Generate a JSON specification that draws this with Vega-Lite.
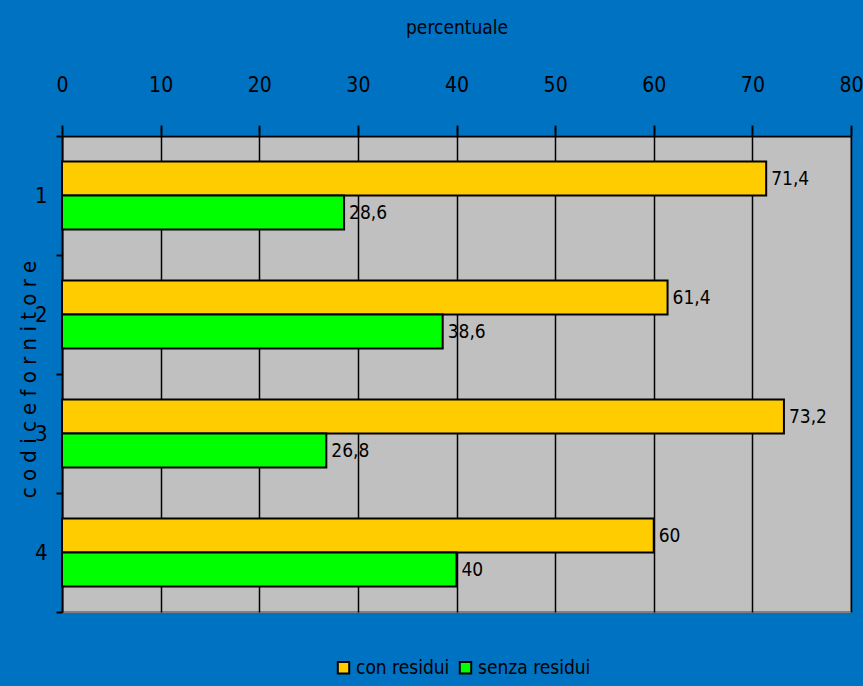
{
  "$schema": "https://vega.github.io/schema/vega-lite/v6.json",
  "width": 789,
  "height": 476,
  "autosize": {"type": "none"},
  "padding": {"left": 62, "top": 136, "right": 12, "bottom": 74},
  "background": "#0072C2",
  "config": {
    "font": "Liberation Sans Narrow, DejaVu Sans Condensed, Liberation Sans, sans-serif",
    "view": {"fill": "#C0C0C0", "stroke": "#808080", "strokeWidth": 2},
    "locale": {"number": {"decimal": ",", "thousands": ".", "grouping": [3], "currency": ["€", ""]}}
  },
  "data": {
    "values": [
      {"codice": "1", "serie": "con residui", "percentuale": 71.4},
      {"codice": "1", "serie": "senza residui", "percentuale": 28.6},
      {"codice": "2", "serie": "con residui", "percentuale": 61.4},
      {"codice": "2", "serie": "senza residui", "percentuale": 38.6},
      {"codice": "3", "serie": "con residui", "percentuale": 73.2},
      {"codice": "3", "serie": "senza residui", "percentuale": 26.8},
      {"codice": "4", "serie": "con residui", "percentuale": 60},
      {"codice": "4", "serie": "senza residui", "percentuale": 40}
    ]
  },
  "encoding": {
    "y": {
      "field": "codice",
      "type": "nominal",
      "scale": {"paddingInner": 0, "paddingOuter": 0},
      "axis": {
        "title": "c o d i c e   f o r n i t o r e",
        "titleFontSize": 22,
        "titleFontWeight": "normal",
        "titleColor": "#000000",
        "titleX": -34,
        "titleY": 243,
        "titleAngle": -90,
        "titleAlign": "center",
        "titleBaseline": "middle",
        "labelFontSize": 22,
        "labelColor": "#000000",
        "labelAngle": 0,
        "labelPadding": 9,
        "tickBand": "extent",
        "tickColor": "#000000",
        "tickWidth": 2,
        "tickSize": 6,
        "domainColor": "#000000",
        "domainWidth": 2,
        "grid": false
      }
    },
    "yOffset": {
      "field": "serie",
      "type": "nominal",
      "scale": {"paddingInner": 0, "paddingOuter": 0.75}
    },
    "x": {
      "field": "percentuale",
      "type": "quantitative",
      "scale": {"domain": [0, 80], "nice": false},
      "axis": {
        "orient": "top",
        "values": [0, 10, 20, 30, 40, 50, 60, 70, 80],
        "title": "percentuale",
        "titleFontSize": 19,
        "titleFontWeight": "normal",
        "titleColor": "#000000",
        "titleY": -103,
        "titleBaseline": "alphabetic",
        "labelFontSize": 21,
        "labelColor": "#000000",
        "labelPadding": 30,
        "labelFlush": false,
        "tickColor": "#000000",
        "tickWidth": 2,
        "tickSize": 11,
        "domainColor": "#000000",
        "domainWidth": 2,
        "grid": true,
        "gridColor": "#000000",
        "gridWidth": 1.5,
        "gridOpacity": 1
      }
    }
  },
  "layer": [
    {
      "mark": {"type": "bar", "stroke": "#000000", "strokeWidth": 2},
      "encoding": {
        "color": {
          "field": "serie",
          "type": "nominal",
          "scale": {"domain": ["con residui", "senza residui"], "range": ["#FFCC00", "#00FF00"]},
          "legend": {
            "orient": "none",
            "legendX": 272,
            "legendY": 522,
            "direction": "horizontal",
            "title": null,
            "symbolType": "square",
            "symbolSize": 130,
            "symbolStrokeColor": "#000000",
            "symbolStrokeWidth": 2,
            "symbolOpacity": 1,
            "labelFontSize": 19,
            "labelColor": "#000000",
            "labelOffset": 3,
            "columnPadding": 5
          }
        }
      }
    },
    {
      "mark": {"type": "text", "align": "left", "baseline": "middle", "dx": 5, "fontSize": 19, "color": "#000000"},
      "encoding": {
        "text": {"field": "percentuale", "type": "quantitative", "format": "~g"}
      }
    }
  ]
}
